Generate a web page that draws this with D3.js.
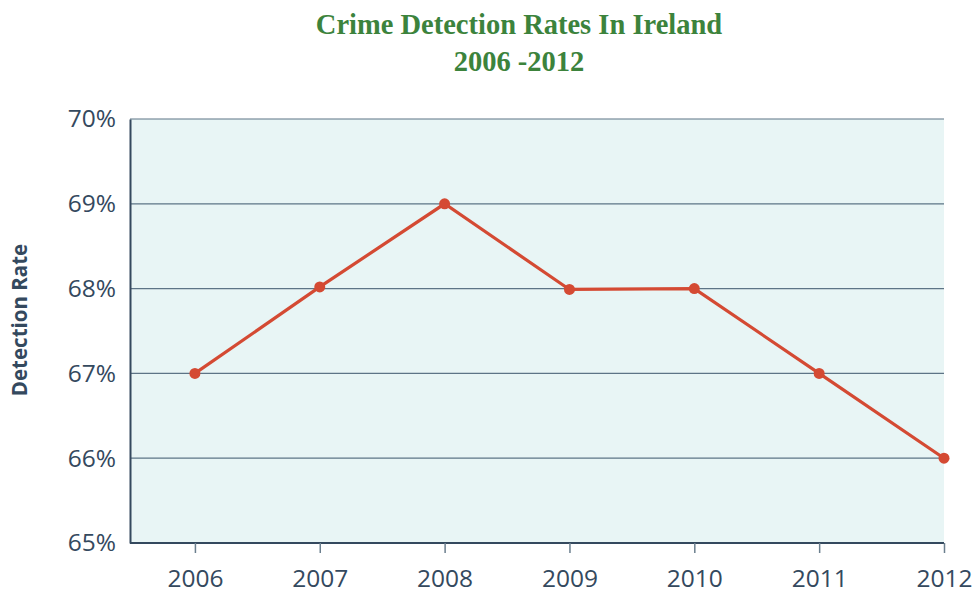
<!DOCTYPE html>
<html>
<head>
<meta charset="utf-8">
<script src="https://cdn.jsdelivr.net/npm/d3@7"></script>
<style>
  body { margin: 0; background: #fff; }
  svg { display: block; }
</style>
</head>
<body>
<svg></svg>
<script>
const years = [2006, 2007, 2008, 2009, 2010, 2011, 2012];
const rates = [67.0, 68.02, 69.0, 67.99, 68.0, 67.0, 66.0];
const yTicks = [65, 66, 67, 68, 69, 70];

const width = 976, height = 592;
const plotL = 130, plotR = 944, plotT = 119, plotB = 543;
const ink = "#34495e";

const svg = d3.select("svg").attr("width", width).attr("height", height);

const x = d3.scaleLinear().domain([2005.48, 2012]).range([plotL, plotR]);
const y = d3.scaleLinear().domain([65, 70]).range([plotB, plotT]);

// plot background
svg.append("rect")
  .attr("x", plotL).attr("y", plotT)
  .attr("width", plotR - plotL).attr("height", plotB - plotT)
  .style("fill", "#e8f5f5");

// gridlines
svg.append("g")
  .selectAll("line")
  .data(yTicks.filter(d => d > 65))
  .join("line")
  .attr("x1", plotL).attr("x2", plotR)
  .attr("y1", d => y(d)).attr("y2", d => y(d))
  .style("stroke", "#5d7486")
  .style("stroke-width", 1.2);

// y axis
const yAxis = svg.append("g")
  .attr("transform", `translate(${plotL},0)`)
  .call(d3.axisLeft(y).tickValues(yTicks).tickSize(0).tickPadding(14).tickFormat(d => d + "%"));
yAxis.select(".domain").style("stroke", ink).style("stroke-width", 2);
yAxis.selectAll("text")
  .style("font-family", "'Open Sans', sans-serif")
  .style("font-size", "24.5px")
  .style("fill", ink);

// x axis
const xAxis = svg.append("g")
  .attr("transform", `translate(0,${plotB})`)
  .call(d3.axisBottom(x).tickValues(years).tickSize(10).tickPadding(17).tickFormat(d3.format("d")));
xAxis.select(".domain").attr("d", `M${plotL},0H${plotR}`).style("stroke", ink).style("stroke-width", 2);
xAxis.selectAll(".tick line").style("stroke", "#6b7f8e").style("stroke-width", 1.5);
xAxis.selectAll("text")
  .style("font-family", "'Open Sans', sans-serif")
  .style("font-size", "24.5px")
  .style("fill", ink);

// y label
svg.append("text")
  .attr("transform", `translate(27,320) rotate(-90)`)
  .attr("text-anchor", "middle")
  .style("font-family", "'Open Sans', sans-serif")
  .style("font-weight", "bold")
  .style("font-size", "20.5px")
  .style("fill", ink)
  .text("Detection Rate");

// line
const pts = years.map((yr, i) => [yr, rates[i]]);
svg.append("path")
  .datum(pts)
  .attr("d", d3.line().x(d => x(d[0])).y(d => y(d[1])))
  .style("fill", "none")
  .style("stroke", "#d44a33")
  .style("stroke-width", 3.2);

svg.append("g")
  .selectAll("circle")
  .data(pts)
  .join("circle")
  .attr("cx", d => x(d[0]))
  .attr("cy", d => y(d[1]))
  .attr("r", 5.5)
  .style("fill", "#d44a33");

// title
const title = svg.append("g")
  .style("font-family", "'Liberation Serif', 'DejaVu Serif', serif")
  .style("font-weight", "bold")
  .style("font-size", "28.5px")
  .style("fill", "#3c833c")
  .attr("text-anchor", "middle");
title.append("text").attr("x", 519).attr("y", 34).text("Crime Detection Rates In Ireland");
title.append("text").attr("x", 519).attr("y", 71).text("2006 -2012");
</script>
</body>
</html>
